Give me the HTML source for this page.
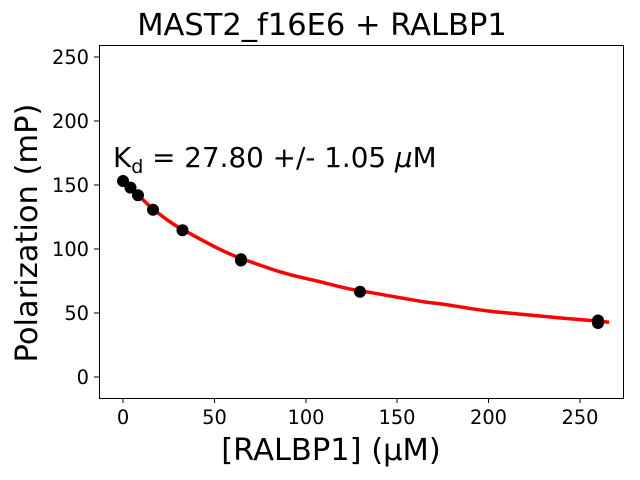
<!DOCTYPE html>
<html><head><meta charset="utf-8"><style>
html,body{margin:0;padding:0;background:#fff;}
svg{display:block;font-family:"DejaVu Sans","Liberation Sans",sans-serif;}
</style></head><body>
<svg width="640" height="480" viewBox="0 0 640 480" xmlns="http://www.w3.org/2000/svg">
<rect width="640" height="480" fill="#fff"/>
<text x="322" y="35" font-size="30.5" text-anchor="middle">MAST2_f16E6 + RALBP1</text>
<path d="M123,181 C128,185 133,190 138,194.8 S148,205 153,209 S170,223 183,229.8 S222,252 243,259.2 S280,273 305.6,278.4 S340,288 362,291.2 S420,302 433,303 S470,309 488,311 S570,319 601,321.4 L609,322.3" fill="none" stroke="#ff0000" stroke-width="3.5"/>
<g fill="#000">
<circle cx="123" cy="181" r="6"/>
<circle cx="130.5" cy="187.6" r="6"/>
<circle cx="138" cy="195.2" r="6"/>
<circle cx="153" cy="209.8" r="6"/>
<circle cx="182.5" cy="230.2" r="6"/>
<circle cx="241" cy="259.2" r="6"/>
<circle cx="241" cy="260.5" r="6"/>
<circle cx="360" cy="291.8" r="6"/>
<circle cx="598" cy="320.5" r="6"/>
<circle cx="598" cy="323" r="6"/>
</g>
<rect x="99.5" y="45.5" width="524" height="353" fill="none" stroke="#000" stroke-width="1"/>
<g stroke="#000" stroke-width="1">
<line x1="123" y1="398" x2="123" y2="403"/>
<line x1="214.5" y1="398" x2="214.5" y2="403"/>
<line x1="306" y1="398" x2="306" y2="403"/>
<line x1="397" y1="398" x2="397" y2="403"/>
<line x1="488.5" y1="398" x2="488.5" y2="403"/>
<line x1="580" y1="398" x2="580" y2="403"/>
<line x1="94" y1="377" x2="99" y2="377"/>
<line x1="94" y1="313" x2="99" y2="313"/>
<line x1="94" y1="249" x2="99" y2="249"/>
<line x1="94" y1="185" x2="99" y2="185"/>
<line x1="94" y1="121" x2="99" y2="121"/>
<line x1="94" y1="57" x2="99" y2="57"/>
</g>
<g font-size="19.4" text-anchor="middle">
<text x="123" y="424">0</text>
<text x="214.5" y="424">50</text>
<text x="306" y="424">100</text>
<text x="397" y="424">150</text>
<text x="488.5" y="424">200</text>
<text x="580" y="424">250</text>
</g>
<g font-size="19.4" text-anchor="end">
<text x="89" y="384">0</text>
<text x="89" y="320">50</text>
<text x="89" y="256">100</text>
<text x="89" y="192">150</text>
<text x="89" y="128">200</text>
<text x="89" y="64">250</text>
</g>
<text x="331" y="460" font-size="30.5" text-anchor="middle">[RALBP1] (μM)</text>
<text transform="translate(37,233) rotate(-90)" font-size="30.5" text-anchor="middle">Polarization (mP)</text>
<text x="113" y="167" font-size="27.8">K<tspan font-size="19" dy="6">d</tspan><tspan dy="-6"> = 27.80 +/- 1.05 </tspan><tspan font-style="italic">μ</tspan>M</text>
</svg>
</body></html>
